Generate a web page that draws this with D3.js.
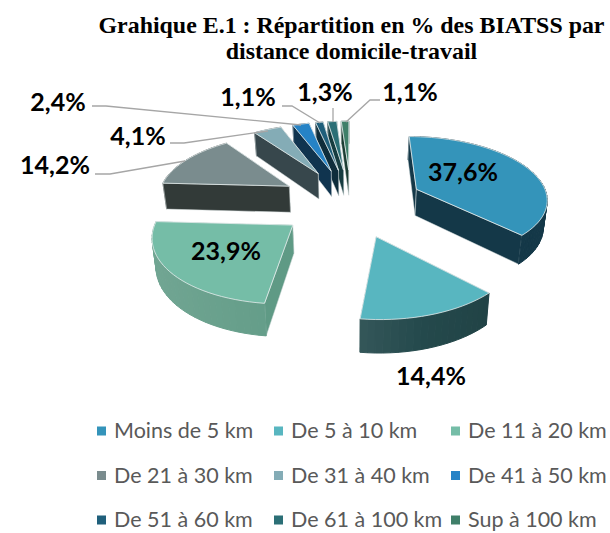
<!DOCTYPE html>
<html>
<head>
<meta charset="utf-8">
<script src="https://cdn.jsdelivr.net/npm/d3@7"></script>
<style>
  html, body { margin: 0; padding: 0; background: #fff; }
  svg { display: block; }
</style>
</head>
<body>
<svg id="chart" width="610" height="533"></svg>
<script>
const categories = ["Moins de 5 km", "De 5 à 10 km", "De 11 à 20 km", "De 21 à 30 km", "De 31 à 40 km", "De 41 à 50 km", "De 51 à 60 km", "De 61 à 100 km", "Sup à 100 km"];
const values = [37.6, 14.4, 23.9, 14.2, 4.1, 2.4, 1.1, 1.3, 1.1];
const valueLabels = ["37,6%", "14,4%", "23,9%", "14,2%", "4,1%", "2,4%", "1,1%", "1,3%", "1,1%"];
const titleLines = ["Grahique E.1 : Répartition en % des BIATSS par", "distance domicile-travail"];

const topColors = ["#3494ba", "#58b6c0", "#75bda7", "#7a8c8e", "#84acb6", "#2683c6", "#1f5f7b", "#2b6f76", "#3f7f69"];
const wallColors = ["#143848", "#24494c", "#5f9a85", "#323a38", "#37474c", "#10344f", "#0f2d3b", "#163c40", "#1c3d33"];

const svg = d3.select("#chart");

// projection of the tilted pie, units of one pie radius
const cx = 351, cy = 202;
const radiusX = 132, radiusY = 62.4, depth = 27;
const perspective = 0.127, explode = 0.55;

function project(X, Y, z) {
    const f = 1 / (1 + perspective * Y);
    return [
        cx + radiusX * X * f * (1 - 0.02 * z),
        cy - radiusY * Y * f + z * depth * f
    ];
}

const arcs = d3.pie().sort(null).value(d => d)(values);
const line = d3.line();

// lighter on the left of a curved wall, darker on the right
const wallShade = d3.scaleLinear().domain([-1, 1]).range([0.24, -0.14]);

const slices = arcs.map((a, i) => {
    const mid = (a.startAngle + a.endAngle) / 2;
    const ox = explode * Math.sin(mid);
    const oy = explode * Math.cos(mid);
    const steps = Math.max(2, Math.ceil((a.endAngle - a.startAngle) / 0.05));
    const rim = d3.range(steps + 1).map(k => {
        const t = a.startAngle + (a.endAngle - a.startAngle) * k / steps;
        return [ox + Math.sin(t), oy + Math.cos(t)];
    });
    return { i, ox, oy, mid, rim };
});

function drawSlice(s) {
    const g = svg.append("g");
    const apex = [s.ox, s.oy];
    const outline = [apex, ...s.rim];
    const walls = [];

    // radial walls
    [[apex, s.rim[0]], [s.rim[s.rim.length - 1], apex]].forEach(([p, q]) => {
        walls.push({ p, q, fill: wallColors[s.i], edge: true });
    });
    // curved wall
    d3.pairs(s.rim).forEach(([p, q]) => {
        const base = d3.color(wallColors[s.i]);
        const mx = (p[0] + q[0]) / 2 - s.ox;
        const shade = s.i === 0 ? 0 : wallShade(mx);
        const fill = shade > 0 ? d3.interpolateRgb(base, "#ffffff")(shade * (s.i === 2 ? 0.5 : 1))
                               : d3.interpolateRgb(base, "#000000")(-shade);
        walls.push({ p, q, fill });
    });

    // back walls first, so the front ones cover them
    walls.sort((a, b) => (b.p[1] + b.q[1]) - (a.p[1] + a.q[1]));
    walls.forEach(w => {
        const quad = [project(...w.p, 0), project(...w.q, 0), project(...w.q, 1), project(...w.p, 1)];
        g.append("path")
            .attr("d", line(quad) + "Z")
            .attr("fill", w.fill)
            .attr("stroke", w.edge ? "#d4dcdc" : w.fill)
            .attr("stroke-width", w.edge ? 0.5 : 1);
    });

    g.append("path")
        .attr("d", line(outline.map(p => project(...p, 0))) + "Z")
        .attr("fill", topColors[s.i])
        .attr("stroke", "#e4ecec")
        .attr("stroke-width", 0.8)
        .attr("stroke-linejoin", "round");
}

// far slices first
slices.slice().sort((a, b) => b.oy - a.oy).forEach(drawSlice);

// leader lines
const leaders = [
    [[92, 106], [106, 106], [301, 125]],
    [[170, 143], [184, 143], [268, 131]],
    [[95, 174], [110, 174], [185, 161]],
    [[282, 106], [292, 106], [320, 123]],
    [[333, 108], [333, 122]],
    [[380, 100], [370, 100], [346, 122]]
];
svg.append("g").selectAll("path").data(leaders).join("path")
    .attr("d", line)
    .attr("fill", "none")
    .attr("stroke", "#a6a6a6")
    .attr("stroke-width", 1.3);

// value labels
const labelSpots = [[463, 181], [431, 385], [226, 260], [55, 174], [138, 145], [58, 111], [248, 106], [325, 101], [410, 101]];
svg.append("g").selectAll("text").data(valueLabels).join("text")
    .attr("x", (d, i) => labelSpots[i][0])
    .attr("y", (d, i) => labelSpots[i][1])
    .attr("text-anchor", "middle")
    .attr("font-family", "Lato, 'Open Sans', sans-serif")
    .attr("font-weight", 700)
    .attr("font-size", 25)
    .attr("fill", "#000")
    .text(d => d);

// title
svg.append("g").selectAll("text").data(titleLines).join("text")
    .attr("x", 351.5)
    .attr("y", (d, i) => 32.5 + i * 26.5)
    .attr("text-anchor", "middle")
    .attr("font-family", "'Liberation Serif', serif")
    .attr("font-weight", 700)
    .attr("font-size", 23.9)
    .attr("fill", "#000")
    .text(d => d);

// legend, three rows of three
const legendX = d3.scalePoint().domain([0, 1, 2]).range([97, 451]);
const legendY = d3.scalePoint().domain([0, 1, 2]).range([431, 520]);
const legend = svg.append("g").selectAll("g").data(categories).join("g")
    .attr("transform", (d, i) => `translate(${legendX(i % 3)},${legendY(Math.floor(i / 3))})`);
legend.append("rect")
    .attr("x", 0).attr("y", -4.5)
    .attr("width", 9).attr("height", 9)
    .attr("fill", (d, i) => topColors[i]);
legend.append("text")
    .attr("x", 17)
    .attr("y", 7)
    .attr("font-family", "Lato, 'Open Sans', sans-serif")
    .attr("font-size", 21.5)
    .attr("fill", "#595959")
    .text(d => d);
</script>
</body>
</html>
